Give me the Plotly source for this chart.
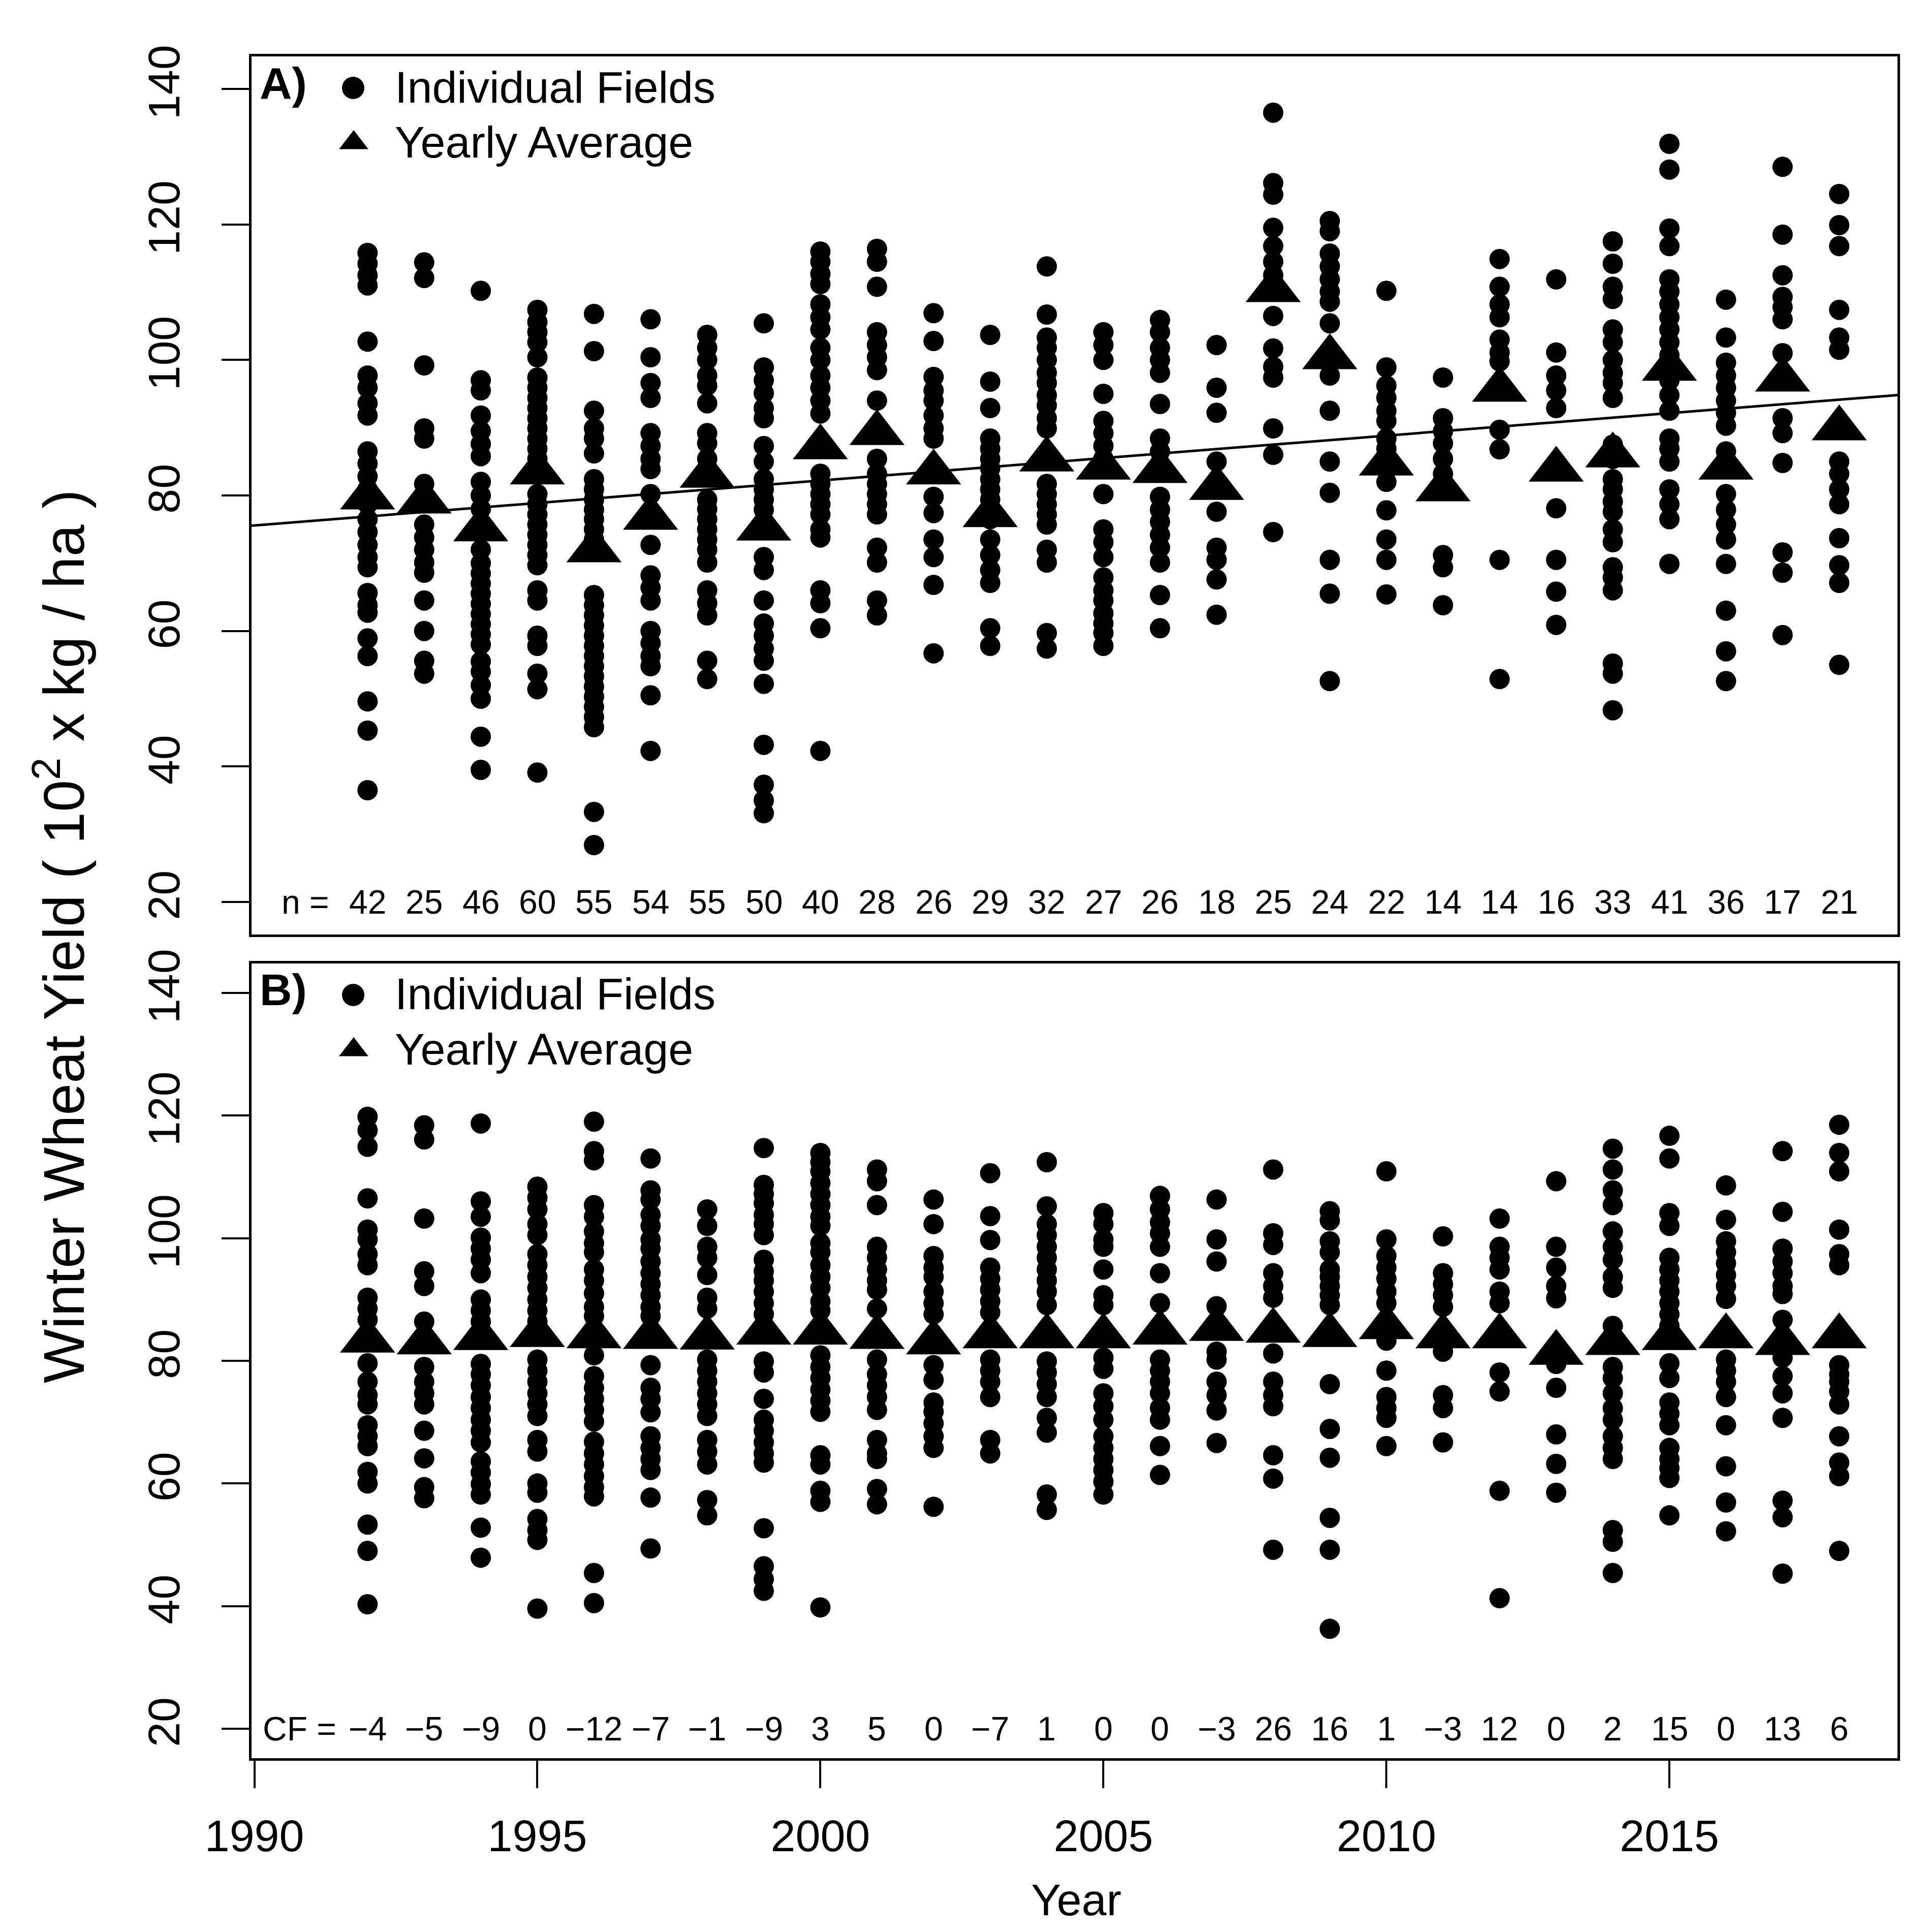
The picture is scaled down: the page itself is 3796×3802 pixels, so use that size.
import plotly.graph_objects as go

# ---------------- data ----------------
years = list(range(1992, 2019))
n_fields = [42, 25, 46, 60, 55, 54, 55, 50, 40, 28, 26, 29, 32, 27, 26, 18,
            25, 24, 22, 14, 14, 16, 33, 41, 36, 17, 21]
cf_labels = ["\u22124", "\u22125", "\u22129", "0", "\u221212", "\u22127", "\u22121", "\u22129",
             "3", "5", "0", "\u22127", "1", "0", "0", "\u22123", "26", "16", "1", "\u22123",
             "12", "0", "2", "15", "0", "13", "6"]

# yearly averages (triangles)
avg_a = [79.7, 79.1, 75.0, 83.4, 71.9, 76.7, 82.9, 75.1, 87.1, 89.2, 83.4, 77.1, 85.3, 84.1,
         83.6, 81.1, 110.3, 100.4, 84.7, 80.9, 95.6, 83.8, 85.9, 98.7, 84.1, 97.1, 89.9]
avg_b = [83.3, 83.0, 83.7, 84.2, 84.0, 83.9, 83.8, 84.6, 84.6, 83.9, 83.0, 84.0, 84.0, 84.0,
         84.6, 85.2, 84.9, 84.2, 85.5, 84.0, 84.0, 81.3, 82.9, 83.7, 84.0, 82.9, 84.0]

# trend line of panel A
trend_slope = 0.663
trend_intercept = -1243.8

# individual fields, panel A (raw yields)
A_1992 = [115.8, 114.2, 112.5, 111.0, 102.7, 97.7, 95.9, 93.6, 91.8, 86.5, 84.7, 82.8, 80.9, 78.7,
          76.5, 74.6, 72.7, 70.9, 69.4, 65.6, 63.8, 62.7, 58.9, 56.3, 49.6, 45.3, 36.5]
A_1993 = [114.4, 112.1, 99.2, 89.9, 88.4, 81.7, 75.7, 73.8, 72.0, 70.1, 68.6, 64.5, 60.0, 55.6, 53.7]
A_1994 = [110.2, 97.0, 95.5, 91.8, 89.5, 87.6, 85.8, 82.0, 80.0, 78.0, 76.0, 72.0, 70.0, 68.5, 67.0,
          65.5, 64.0, 62.5, 61.0, 59.5, 58.0, 55.5, 54.0, 52.0, 50.0, 44.4, 39.5]
A_1995 = [107.4, 105.6, 104.1, 102.6, 100.4, 97.4, 95.9, 94.4, 92.9, 91.4, 89.9, 88.4, 86.9, 85.4,
          80.2, 78.7, 77.2, 75.7, 74.2, 72.7, 71.2, 69.7, 66.0, 64.5, 59.3, 57.8, 53.7, 51.4, 39.1]
A_1996 = [106.8, 101.3, 92.5, 89.9, 88.4, 86.2, 82.4, 80.9, 79.4, 77.9, 76.5, 75.0, 73.5, 72.0, 65.3,
          63.8, 62.3, 60.8, 59.3, 57.8, 56.3, 54.8, 53.3, 51.8, 50.3, 48.8, 47.3, 45.8, 33.3, 28.4]
A_1997 = [106.0, 100.4, 96.6, 94.4, 89.2, 87.3, 85.4, 83.9, 80.2, 72.7, 68.2, 66.4, 64.5, 60.0, 58.2,
          56.3, 54.8, 50.5, 42.3]
A_1998 = [103.7, 101.8, 100.0, 97.7, 96.2, 93.6, 89.2, 87.7, 85.4, 79.4, 78.0, 76.5, 75.0, 73.5, 72.0,
          70.1, 66.0, 64.1, 62.3, 55.6, 52.9]
A_1999 = [105.4, 98.9, 97.0, 95.1, 92.9, 91.4, 87.3, 85.0, 82.4, 80.9, 79.4, 77.9, 70.9, 69.0, 64.5,
          61.1, 59.3, 57.4, 55.6, 52.2, 43.2, 37.3, 35.0, 33.1]
A_2000 = [116.0, 114.5, 112.7, 111.2, 108.2, 106.3, 104.5, 101.8, 100.0, 97.7, 95.9, 94.0, 92.1, 83.2,
          81.7, 80.2, 78.7, 77.2, 75.0, 73.8, 66.0, 64.1, 60.4, 42.3]
A_2001 = [116.4, 114.5, 110.8, 104.1, 102.2, 100.4, 98.5, 94.0, 85.4, 83.2, 81.7, 80.2, 78.7, 77.2,
          72.3, 70.1, 64.5, 62.3]
A_2002 = [106.9, 102.8, 97.5, 95.5, 94.0, 91.8, 89.9, 88.4, 79.8, 77.4, 73.5, 70.9, 66.8, 56.7]
A_2003 = [103.7, 96.8, 92.9, 88.4, 86.9, 85.4, 84.0, 82.4, 80.9, 79.4, 77.9, 76.5, 73.5, 71.2, 69.0,
          67.1, 60.4, 57.8]
A_2004 = [113.8, 106.7, 103.3, 101.8, 100.0, 98.1, 96.6, 94.8, 93.3, 91.4, 89.9, 81.7, 80.2, 78.7,
          77.2, 75.7, 72.0, 70.1, 59.7, 57.4]
A_2005 = [104.1, 102.2, 100.0, 95.0, 91.0, 89.2, 87.3, 85.4, 80.2, 75.0, 73.1, 70.9, 67.9, 66.0, 64.5,
          62.6, 61.1, 59.7, 57.8]
A_2006 = [105.9, 104.1, 101.8, 100.0, 98.1, 93.5, 88.4, 86.5, 84.7, 79.8, 77.9, 76.1, 74.2, 72.3, 70.1,
          65.3, 60.4]
A_2007 = [102.2, 95.9, 92.2, 85.0, 77.6, 72.3, 70.5, 67.6, 62.4]
A_2008 = [136.5, 126.1, 124.4, 119.5, 116.8, 114.5, 112.5, 110.8, 106.5, 101.7, 99.0, 97.4, 89.9, 86.0,
          74.6]
A_2009 = [120.5, 119.0, 115.7, 113.8, 111.9, 110.1, 108.6, 105.4, 97.7, 92.5, 85.0, 80.4, 70.5, 65.5,
          52.6]
A_2010 = [110.2, 98.9, 96.2, 94.4, 92.5, 91.0, 88.4, 86.9, 85.4, 83.9, 82.0, 77.8, 73.5, 70.5, 65.4]
A_2011 = [97.4, 91.4, 89.5, 87.7, 85.4, 83.2, 80.9, 71.2, 69.4, 63.8]
A_2012 = [114.9, 110.8, 108.2, 106.3, 103.0, 101.1, 99.8, 89.7, 86.8, 70.5, 52.9]
A_2013 = [111.9, 101.1, 97.7, 95.5, 92.9, 78.1, 70.5, 65.8, 60.9]
A_2014 = [117.5, 114.2, 110.8, 109.0, 104.5, 102.6, 100.0, 98.1, 96.6, 94.4, 87.5, 85.4, 82.4, 80.9,
          79.1, 77.6, 75.0, 73.1, 69.4, 67.9, 66.0, 55.2, 53.7, 48.3]
A_2015 = [131.9, 128.1, 119.4, 116.8, 111.9, 110.1, 108.2, 106.3, 104.5, 102.6, 100.7, 98.9, 97.0,
          94.8, 92.5, 88.4, 86.9, 85.0, 80.9, 78.7, 76.5, 69.9]
A_2016 = [108.9, 103.3, 99.6, 97.7, 95.9, 94.0, 92.2, 90.3, 86.5, 80.2, 77.9, 75.7, 73.5, 69.9, 63.0,
          57.0, 52.6]
A_2017 = [128.5, 118.5, 112.5, 109.3, 107.8, 106.0, 101.0, 91.4, 89.2, 84.8, 71.6, 68.6, 59.4]
A_2018 = [124.5, 119.9, 116.8, 107.4, 103.3, 101.5, 85.0, 83.2, 80.9, 78.7, 73.7, 69.7, 67.1, 55.0]

# individual fields, panel B (corrected yields)
B_1992 = [119.8, 117.6, 114.9, 106.5, 101.4, 99.8, 97.4, 95.6, 90.3, 88.5, 86.7, 79.6, 76.6, 74.4,
          72.9, 69.5, 67.7, 66.1, 61.9, 60.0, 53.3, 49.0, 40.3]
B_1993 = [118.4, 116.1, 103.2, 94.6, 92.2, 86.4, 79.0, 76.6, 74.7, 72.9, 68.6, 64.1, 59.4, 57.6]
B_1994 = [118.7, 106.0, 103.5, 100.1, 98.3, 96.5, 94.3, 90.0, 88.2, 86.4, 84.5, 79.5, 77.8, 76.0,
          74.1, 72.3, 70.4, 68.6, 66.7, 63.6, 61.8, 59.9, 58.2, 52.8, 47.9]
B_1995 = [108.4, 106.6, 104.7, 102.3, 100.5, 97.4, 95.6, 93.7, 91.9, 90.0, 88.2, 86.4, 80.2, 78.4,
          76.6, 74.7, 72.9, 71.0, 67.1, 65.2, 60.0, 58.5, 54.2, 52.4, 50.8, 39.6]
B_1996 = [119.0, 114.2, 112.7, 105.4, 103.5, 101.1, 99.2, 97.7, 94.9, 93.1, 91.0, 88.8, 87.3, 80.9,
          77.5, 75.6, 73.8, 72.0, 70.1, 66.8, 64.9, 63.1, 61.2, 59.4, 57.9, 45.4, 40.5]
B_1997 = [113.0, 107.8, 106.3, 103.8, 102.0, 99.8, 98.3, 96.2, 94.3, 92.5, 90.7, 88.8, 87.3, 79.3,
          75.6, 73.8, 71.6, 67.7, 65.8, 64.0, 62.2, 57.7, 49.4]
B_1998 = [104.7, 102.0, 98.6, 96.8, 94.0, 90.3, 88.5, 80.2, 78.4, 76.6, 74.7, 72.9, 71.0, 67.1, 65.2,
          63.1, 57.3, 54.8]
B_1999 = [114.7, 108.7, 107.2, 105.7, 103.8, 102.3, 100.5, 96.5, 94.6, 93.1, 91.3, 89.4, 87.6, 79.9,
          78.1, 73.8, 70.4, 68.6, 66.7, 64.9, 63.4, 52.7, 46.5, 44.4, 42.5]
B_2000 = [113.9, 112.4, 110.9, 109.0, 107.2, 105.4, 103.5, 102.0, 99.2, 97.7, 95.6, 93.7, 91.9, 89.7,
          88.2, 80.9, 79.0, 77.2, 75.3, 73.5, 71.7, 64.6, 63.1, 58.8, 57.0, 39.8]
B_2001 = [111.2, 109.3, 105.4, 98.6, 96.8, 94.9, 93.1, 91.6, 88.5, 80.2, 77.8, 76.0, 74.1, 72.0, 67.1,
          64.9, 64.0, 59.1, 56.6]
B_2002 = [106.3, 102.3, 97.1, 95.2, 93.7, 91.3, 89.4, 87.6, 79.3, 76.9, 73.2, 71.7, 69.8, 67.7, 65.8,
          56.2]
B_2003 = [110.6, 103.6, 99.7, 95.2, 93.4, 91.6, 89.7, 87.9, 80.2, 78.4, 76.6, 74.1, 67.1, 64.9]
B_2004 = [112.4, 105.2, 102.3, 100.5, 98.6, 96.8, 94.9, 93.1, 91.3, 89.1, 79.9, 78.1, 76.2, 74.1, 70.7,
          68.3, 58.2, 55.7]
B_2005 = [104.1, 102.3, 99.8, 98.6, 94.9, 90.7, 89.1, 80.5, 78.7, 74.7, 72.6, 70.4, 67.7, 65.8, 64.0,
          62.2, 60.3, 58.2]
B_2006 = [106.9, 104.7, 102.6, 100.8, 98.6, 94.3, 89.4, 80.2, 78.4, 76.6, 74.7, 72.3, 70.4, 66.1, 61.4]
B_2007 = [106.3, 99.8, 96.2, 88.9, 81.5, 80.2, 76.6, 74.4, 71.9, 66.6]
B_2008 = [111.2, 100.8, 98.9, 94.3, 92.2, 90.3, 81.2, 76.6, 74.4, 72.6, 64.6, 60.8, 49.2]
B_2009 = [104.4, 102.9, 99.5, 97.7, 94.9, 93.7, 92.2, 90.7, 89.1, 76.2, 68.9, 64.2, 54.4, 49.2, 36.3]
B_2010 = [110.9, 99.8, 97.1, 95.2, 93.4, 91.3, 89.4, 83.3, 78.4, 74.1, 72.3, 70.7, 66.1]
B_2011 = [100.3, 94.3, 92.5, 90.7, 88.8, 81.5, 74.4, 72.3, 66.7]
B_2012 = [103.2, 98.6, 96.8, 94.9, 91.3, 89.4, 78.1, 75.0, 58.8, 41.3]
B_2013 = [109.3, 98.6, 95.2, 92.2, 90.2, 79.5, 75.6, 68.0, 63.2, 58.5]
B_2014 = [114.6, 111.2, 107.8, 105.4, 101.1, 98.6, 96.5, 93.7, 91.9, 85.7, 79.0, 77.2, 74.7, 72.3,
          70.4, 67.7, 65.8, 64.0, 52.4, 50.5, 45.4]
B_2015 = [116.7, 113.0, 104.1, 102.0, 96.8, 94.9, 93.1, 91.3, 89.4, 87.6, 85.7, 79.6, 77.2, 73.2, 71.4,
          69.5, 65.8, 64.0, 62.5, 60.9, 54.8]
B_2016 = [108.6, 103.0, 99.5, 97.7, 95.9, 94.0, 92.2, 90.1, 80.2, 78.4, 76.6, 74.1, 69.5, 62.8, 56.9,
          52.2]
B_2017 = [114.2, 104.3, 98.3, 96.2, 94.3, 92.2, 90.9, 86.7, 80.5, 77.5, 74.7, 70.7, 57.2, 54.5, 45.3]
B_2018 = [118.5, 113.9, 110.9, 101.4, 97.4, 95.6, 79.3, 77.8, 76.6, 75.0, 72.9, 67.7, 63.4, 61.2, 49.0]

fields_a = [A_1992, A_1993, A_1994, A_1995, A_1996, A_1997, A_1998, A_1999, A_2000, A_2001,
            A_2002, A_2003, A_2004, A_2005, A_2006, A_2007, A_2008, A_2009, A_2010, A_2011,
            A_2012, A_2013, A_2014, A_2015, A_2016, A_2017, A_2018]
fields_b = [B_1992, B_1993, B_1994, B_1995, B_1996, B_1997, B_1998, B_1999, B_2000, B_2001,
            B_2002, B_2003, B_2004, B_2005, B_2006, B_2007, B_2008, B_2009, B_2010, B_2011,
            B_2012, B_2013, B_2014, B_2015, B_2016, B_2017, B_2018]

y_ticks = [20, 40, 60, 80, 100, 120, 140]
x_ticks = [1990, 1995, 2000, 2005, 2010, 2015]

# ---------------- layout constants ----------------
W, H = 3796, 3802
ML, MR, MT, MB = 487, 70, 103, 350
PW = W - ML - MR
PH = H - MT - MB
A_TOP, A_BOT = 103, 1831
B_TOP, B_BOT = 1888, 3452
A_H = A_BOT - A_TOP
B_H = B_BOT - B_TOP
dom_a = [(H - MB - A_BOT) / PH, 1.0]
dom_b = [0.0, (H - MB - B_TOP) / PH]
X_RANGE = [1989.95, 2019.03]
Y_RANGE = [15.2, 144.8]

FONT = "Liberation Sans, Arial, Helvetica, sans-serif"
BLACK = "#000000"
DOT = 40
TRI = 94


def flat(groups):
    xs, ys = [], []
    for yr, vals in zip(years, groups):
        xs += [yr] * len(vals)
        ys += vals
    return xs, ys


fig = go.Figure()

# panel A
xa, ya = flat(fields_a)
fig.add_trace(go.Scatter(x=xa, y=ya, mode="markers", xaxis="x", yaxis="y",
                         marker=dict(symbol="circle", size=DOT, color=BLACK, line=dict(width=0)),
                         showlegend=False, hoverinfo="skip"))
fig.add_trace(go.Scatter(x=years, y=avg_a, mode="markers", xaxis="x", yaxis="y",
                         marker=dict(symbol="triangle-up", size=TRI, color=BLACK, line=dict(width=0)),
                         showlegend=False, hoverinfo="skip"))
fig.add_trace(go.Scatter(x=X_RANGE, y=[trend_intercept + trend_slope * v for v in X_RANGE],
                         mode="lines", xaxis="x", yaxis="y",
                         line=dict(color=BLACK, width=5), showlegend=False, hoverinfo="skip"))

# panel B
xb, yb = flat(fields_b)
fig.add_trace(go.Scatter(x=xb, y=yb, mode="markers", xaxis="x2", yaxis="y2",
                         marker=dict(symbol="circle", size=DOT, color=BLACK, line=dict(width=0)),
                         showlegend=False, hoverinfo="skip"))
fig.add_trace(go.Scatter(x=years, y=avg_b, mode="markers", xaxis="x2", yaxis="y2",
                         marker=dict(symbol="triangle-up", size=TRI, color=BLACK, line=dict(width=0)),
                         showlegend=False, hoverinfo="skip"))

# legend keys drawn in panel-pixel overlay axes
for xx, yy in (("x3", "y3"), ("x4", "y4")):
    fig.add_trace(go.Scatter(x=[200], y=[62], mode="markers", xaxis=xx, yaxis=yy,
                             marker=dict(symbol="circle", size=DOT + 4, color=BLACK, line=dict(width=0)),
                             showlegend=False, hoverinfo="skip"))
    fig.add_trace(go.Scatter(x=[201], y=[170], mode="markers", xaxis=xx, yaxis=yy,
                             marker=dict(symbol="triangle-up", size=50, color=BLACK, line=dict(width=0)),
                             showlegend=False, hoverinfo="skip"))

ann = []
for xx, yy, tag in (("x3", "y3", "A)"), ("x4", "y4", "B)")):
    ann.append(dict(x=14, y=52, xref=xx, yref=yy, text="<b>" + tag + "</b>", showarrow=False,
                    xanchor="left", yanchor="middle", font=dict(size=88, color=BLACK, family=FONT)))
    ann.append(dict(x=280, y=60, xref=xx, yref=yy, text="Individual Fields", showarrow=False,
                    xanchor="left", yanchor="middle", font=dict(size=88, color=BLACK, family=FONT)))
    ann.append(dict(x=280, y=168, xref=xx, yref=yy, text="Yearly Average", showarrow=False,
                    xanchor="left", yanchor="middle", font=dict(size=88, color=BLACK, family=FONT)))

# sample sizes (panel A) and CF (panel B)
ann.append(dict(x=1990.9, y=20, xref="x", yref="y", text="n =", showarrow=False,
                xanchor="center", yanchor="middle", font=dict(size=66, color=BLACK, family=FONT)))
for yr, n in zip(years, n_fields):
    ann.append(dict(x=yr, y=20, xref="x", yref="y", text=str(n), showarrow=False,
                    xanchor="center", yanchor="middle", font=dict(size=66, color=BLACK, family=FONT)))
ann.append(dict(x=1990.8, y=20, xref="x2", yref="y2", text="CF =", showarrow=False,
                xanchor="center", yanchor="middle", font=dict(size=66, color=BLACK, family=FONT)))
for yr, c in zip(years, cf_labels):
    ann.append(dict(x=yr, y=20, xref="x2", yref="y2", text=c, showarrow=False,
                    xanchor="center", yanchor="middle", font=dict(size=66, color=BLACK, family=FONT)))

# axis titles
ann.append(dict(x=(2110 - ML) / PW, y=(H - MB - 3730) / PH, xref="paper", yref="paper",
                text="Year", showarrow=False, xanchor="center", yanchor="middle",
                font=dict(size=88, color=BLACK, family=FONT)))
ann.append(dict(x=(110 - ML) / PW, y=(H - MB - 1835) / PH, xref="paper", yref="paper",
                text="Winter Wheat Yield ( 10<sup>2</sup> x kg / ha )", textangle=-90,
                showarrow=False, xanchor="center", yanchor="middle",
                font=dict(size=113, color=BLACK, family=FONT)))

axis_common = dict(showgrid=False, zeroline=False, showline=True, mirror=True,
                   linecolor=BLACK, linewidth=5)
ytick_common = dict(tickmode="array", tickvals=y_ticks, ticktext=[str(v) for v in y_ticks],
                    ticks="outside", ticklen=54, tickwidth=4, tickcolor=BLACK, tickangle=-90,
                    ticklabelstandoff=48,
                    tickfont=dict(size=88, color=BLACK, family=FONT), range=Y_RANGE)

fig.update_layout(
    width=W, height=H,
    margin=dict(l=ML, r=MR, t=MT, b=MB, pad=0),
    paper_bgcolor="white", plot_bgcolor="white",
    showlegend=False,
    font=dict(family=FONT, color=BLACK),
    xaxis=dict(domain=[0, 1], anchor="y", range=X_RANGE, showticklabels=False, ticks="",
               **axis_common),
    yaxis=dict(domain=dom_a, anchor="x", **axis_common, **ytick_common),
    xaxis2=dict(domain=[0, 1], anchor="y2", range=X_RANGE, tickmode="array", tickvals=x_ticks,
                ticktext=[str(v) for v in x_ticks], ticks="outside", ticklen=54, tickwidth=4,
                ticklabelstandoff=18,
                tickcolor=BLACK, tickfont=dict(size=88, color=BLACK, family=FONT),
                **axis_common),
    yaxis2=dict(domain=dom_b, anchor="x2", **axis_common, **ytick_common),
    xaxis3=dict(overlaying="x", anchor="y3", range=[0, PW], visible=False),
    yaxis3=dict(overlaying="y", anchor="x3", domain=dom_a, range=[A_H, 0], visible=False),
    xaxis4=dict(overlaying="x2", anchor="y4", range=[0, PW], visible=False),
    yaxis4=dict(overlaying="y2", anchor="x4", domain=dom_b, range=[B_H, 0], visible=False),
    annotations=ann,
)

fig.write_html("out.html")
